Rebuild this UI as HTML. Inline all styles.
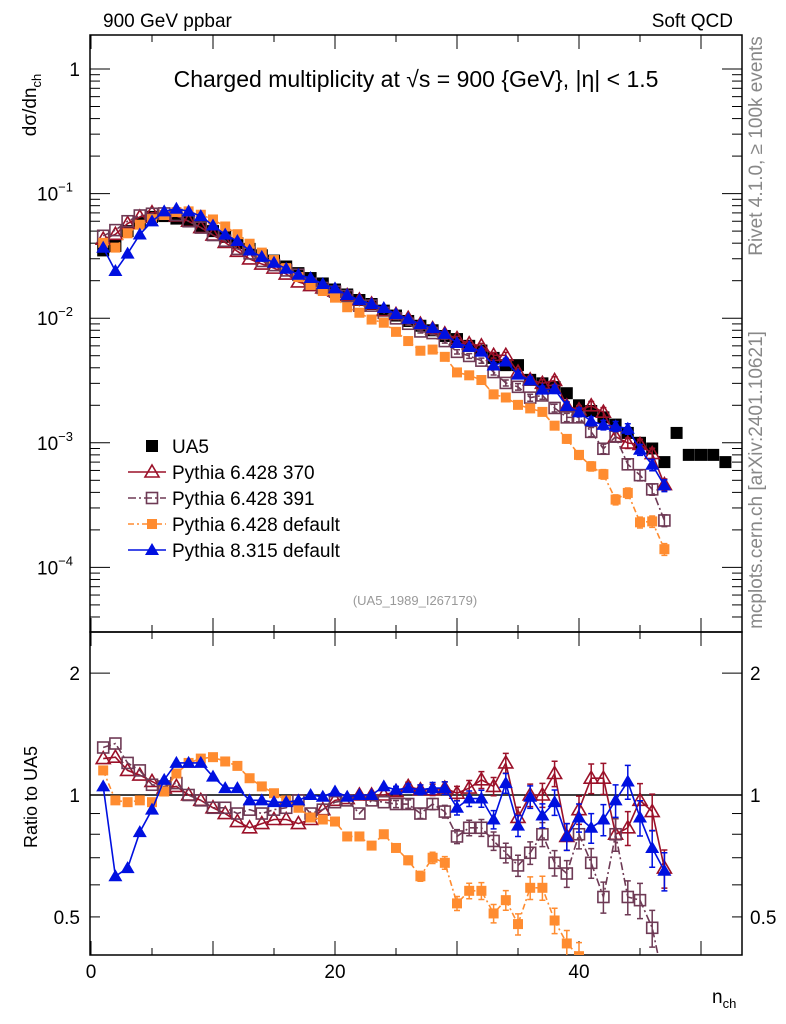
<!DOCTYPE html>
<html><head><meta charset="utf-8">
<style>
html,body{margin:0;padding:0;background:#fff;width:786px;height:1024px;overflow:hidden;}
svg{display:block;font-family:"Liberation Sans",sans-serif;}
</style></head>
<body>
<svg id="c" width="786" height="1024" viewBox="0 0 786 1024">
<text x="103" y="27" font-size="19">900 GeV ppbar</text>
<text x="733" y="27" font-size="19" text-anchor="end">Soft QCD</text>
<text x="416" y="87" font-size="23" text-anchor="middle">Charged multiplicity at √s = 900 {GeV}, |η| &lt; 1.5</text>
<text x="415" y="605" font-size="13" fill="#999" text-anchor="middle">(UA5_1989_I267179)</text>
<text transform="translate(762,146) rotate(-90)" font-size="19" fill="#888" text-anchor="middle">Rivet 4.1.0, ≥ 100k events</text>
<text transform="translate(762,480) rotate(-90)" font-size="19" fill="#888" text-anchor="middle">mcplots.cern.ch [arXiv:2401.10621]</text>
<text transform="translate(36,105) rotate(-90)" font-size="19" text-anchor="middle">dσ/dn<tspan font-size="13" dy="5">ch</tspan></text>
<text transform="translate(37,797) rotate(-90)" font-size="18" text-anchor="middle">Ratio to UA5</text>
<text x="712" y="1003" font-size="19">n<tspan font-size="13" dy="5">ch</tspan></text>
<g id="g"></g>
</svg>
<script>
const nMC=[];for(let i=1;i<=47;i++)nMC.push(i);
const nUA5=[1,2,3,4,5,6,7,8,9,10,11,12,13,14,15,16,17,18,19,20,21,22,23,24,25,26,27,28,29,30,31,32,33,34,35,36,37,38,39,40,41,42,43,44,45,46,47,48,49,50,51,52];
const ua5=[0.035,0.038,0.05,0.058,0.065,0.066,0.063,0.06,0.055,0.05,0.045,0.04,0.036,0.032,0.029,0.026,0.023,0.021,0.019,0.017,0.0155,0.014,0.013,0.0115,0.0105,0.0095,0.0087,0.008,0.0072,0.0068,0.006,0.0055,0.0048,0.0042,0.0042,0.0032,0.003,0.0028,0.0025,0.002,0.0018,0.0016,0.0014,0.0012,0.001,0.0009,0.0007,0.0012,0.0008,0.0008,0.0008,0.0007];
const r370=[1.23,1.24,1.15,1.12,1.08,1.04,1.05,1.0,0.97,0.93,0.9,0.86,0.83,0.85,0.87,0.87,0.85,0.87,0.92,0.97,0.98,1.0,1.0,1.0,1.02,1.05,1.03,1.03,1.04,1.01,1.04,1.09,1.05,1.2,0.88,1.0,1.0,1.13,0.79,0.92,1.1,1.1,0.8,0.83,0.97,0.91,0.66];
const r391=[1.31,1.34,1.2,1.15,1.06,1.05,1.07,1.0,0.97,0.93,0.93,0.9,0.92,0.9,0.92,0.93,0.97,0.9,0.92,0.96,0.97,0.9,0.97,0.96,0.95,0.95,0.9,0.95,0.91,0.79,0.83,0.83,0.77,0.72,0.67,0.72,0.8,0.68,0.64,0.8,0.68,0.56,0.8,0.56,0.55,0.47,0.34];
const rDef=[1.15,0.97,0.96,0.97,0.96,1.02,1.13,1.2,1.23,1.24,1.21,1.18,1.1,1.05,1.01,0.97,0.93,0.88,0.87,0.86,0.79,0.79,0.75,0.8,0.74,0.69,0.63,0.7,0.68,0.54,0.58,0.58,0.51,0.55,0.48,0.59,0.59,0.49,0.43,0.4,0.36,0.35,0.25,0.33,0.23,0.26,0.2];
const rP8=[1.05,0.63,0.66,0.81,0.92,1.09,1.2,1.2,1.2,1.11,1.04,1.04,0.97,0.97,0.96,0.96,0.97,1.0,0.99,1.02,0.99,1.0,1.0,1.05,1.03,1.04,1.03,1.04,1.04,0.93,0.98,0.98,0.87,1.07,0.84,0.99,0.89,0.96,0.79,0.88,0.83,0.87,0.97,1.08,0.88,0.74,0.65];
const xTicks=[0,20,40];
const yMainTicks=[1,0.1,0.01,0.001,0.0001];
const yMainLabels=["1","10","10","10","10"];
const yMainExp=["","−1","−2","−3","−4"];
const yRatioTicks=[2,1,0.5];
const yRatioLabels=["2","1","0.5"];

const NS="http://www.w3.org/2000/svg";
const G=document.getElementById('g');
const X0=90,X1=742,MT=35,MB=632,RT=632,RB=955;
const sx=n=>91+12.2*n;
const sy=v=>69-124.6*Math.log10(v);
const sr=r=>795-405*Math.log10(r);
function mk(tag,a,p){const e=document.createElementNS(NS,tag);for(const k in a)e.setAttribute(k,a[k]);(p||G).appendChild(e);return e;}

const defs=mk('defs',{});
const cm=mk('clipPath',{id:'cm'},defs);mk('rect',{x:X0,y:MT,width:X1-X0,height:MB-MT},cm);
const cr=mk('clipPath',{id:'cr'},defs);mk('rect',{x:X0,y:RT,width:X1-X0,height:RB-RT},cr);

let f=mk('rect',{x:X0,y:MT,width:X1-X0,height:MB-MT,fill:'none',stroke:'#000','stroke-width':1.5});

f=mk('rect',{x:X0,y:RT,width:X1-X0,height:RB-RT,fill:'none',stroke:'#000','stroke-width':1.5});

let ul=mk('line',{x1:X0,x2:X1,y1:sr(1),y2:sr(1),stroke:'#000','stroke-width':1.5});


for(let v=0;v<=53;v+=5){const major=v%10===0;const L=major?14:7;const x=sx(v);
 for(const [y,d] of [[RB,-1],[MT,1],[MB,-1],[RT,1]]){const t=mk('line',{x1:x,x2:x,y1:y,y2:y+d*L,stroke:'#000','stroke-width':1});
 }}
xTicks.forEach((v,i)=>{const t=mk('text',{x:sx(v),y:978,'font-size':19,'text-anchor':'middle'});t.textContent=String(v);
 });

for(let d=-5;d<=0;d++){for(let m=1;m<=9;m++){const v=m*Math.pow(10,d);const y=sy(v);if(y<MT||y>MB)continue;const L=m===1?20:10;
 for(const [x,s] of [[X0,1],[X1,-1]]){const t=mk('line',{x1:x,x2:x+s*L,y1:y,y2:y,stroke:'#000','stroke-width':1});
 }}}
yMainTicks.forEach((v,i)=>{const t=mk('text',{x:80,y:sy(v)+7,'font-size':19,'text-anchor':'end'});
 t.textContent=yMainLabels[i];
 if(yMainExp[i]){const s=mk('tspan',{dy:-9,'font-size':13},t);s.textContent=yMainExp[i];t.setAttribute('text-anchor','start');t.setAttribute('x',37);}
 });

[0.5,0.6,0.7,0.8,0.9,1,2].forEach(v=>{const y=sr(v);const L=(v===1||v===2)?20:10;
 for(const [x,s] of [[X0,1],[X1,-1]]){const t=mk('line',{x1:x,x2:x+s*L,y1:y,y2:y,stroke:'#000','stroke-width':1});
 }});
yRatioTicks.forEach((v,i)=>{for(const [x,a] of [[80,'end'],[750,'start']]){const t=mk('text',{x:x,y:sr(v)+7,'font-size':19,'text-anchor':a});t.textContent=yRatioLabels[i];
 }});

function marker(p,type,x,y,col){let e;
 if(type==='sqf')e=mk('rect',{x:x-6,y:y-6,width:12,height:12,fill:col},p);
 else if(type==='sqo')e=mk('rect',{x:x-5.5,y:y-5.5,width:11,height:11,fill:'#fff','fill-opacity':0,stroke:col,'stroke-width':1.6},p);
 else if(type==='sqs')e=mk('rect',{x:x-5,y:y-5,width:10,height:10,fill:col},p);
 else if(type==='tro')e=mk('polygon',{points:`${x},${y-7} ${x+7},${y+5} ${x-7},${y+5}`,fill:'none',stroke:col,'stroke-width':1.6},p);
 else e=mk('polygon',{points:`${x},${y-7} ${x+7},${y+5} ${x-7},${y+5}`,fill:col},p);
 return e;}

const series=[
 {r:r370,col:'#9b1129',m:'tro',dash:'',name:'pythia-6428-370'},
 {r:r391,col:'#6e3a55',m:'sqo',dash:'8,3,2,3',name:'pythia-6428-391'},
 {r:rDef,col:'#ff8c30',m:'sqs',dash:'6,3,2,3',name:'pythia-6428-default'},
 {r:rP8,col:'#0010e0',m:'trf',dash:'',name:'pythia-8315-default'}];

function errFrac(n){return n<25?0:0.02+0.004*(n-25);}

const gu=mk('g',{'clip-path':'url(#cm)'});

nUA5.forEach((n,i)=>{const m=marker(gu,'sqf',sx(n),sy(ua5[i]),'#000');
 });

series.forEach(s=>{
 for(const panel of ['main','ratio']){
  const g=mk('g',{'clip-path':panel==='main'?'url(#cm)':'url(#cr)'});
  
  const pts=nMC.map((n,i)=>{const val=panel==='main'?ua5[i]*s.r[i]:s.r[i];return [sx(n),panel==='main'?sy(val):sr(val),val];});
  const pl=mk('polyline',{points:pts.map(p=>p[0]+','+p[1]).join(' '),fill:'none',stroke:s.col,'stroke-width':1.6,'stroke-dasharray':s.dash},g);
  
  nMC.forEach((n,i)=>{const e=errFrac(n);const p=pts[i];
   if(e>0){const fy=panel==='main'?sy:sr;const y1=fy(p[2]*(1+e)),y2=fy(p[2]*(1-e));
    const el=mk('path',{d:`M${p[0]},${y1}V${y2}M${p[0]-3},${y1}h6M${p[0]-3},${y2}h6`,stroke:s.col,'stroke-width':1.5,fill:'none'},g);
    }
   const m=marker(g,s.m,p[0],p[1],s.col);
   });
 }});

const leg=[['UA5','sqf','#000',''],['Pythia 6.428 370','tro','#9b1129',''],['Pythia 6.428 391','sqo','#6e3a55','8,3,2,3'],['Pythia 6.428 default','sqs','#ff8c30','6,3,2,3'],['Pythia 8.315 default','trf','#0010e0','']];
const lg=mk('g',{});
leg.forEach((l,i)=>{const y=446+26*i;const e=mk('g',{},lg);
 
 if(i>0)mk('line',{x1:128,x2:166,y1:y,y2:y,stroke:l[2],'stroke-width':1.6,'stroke-dasharray':l[3]},e);
 marker(e,l[1],152,y,l[2]);
 const t=mk('text',{x:172,y:y+7,'font-size':19},e);t.textContent=l[0];});
</script>
</body></html>
